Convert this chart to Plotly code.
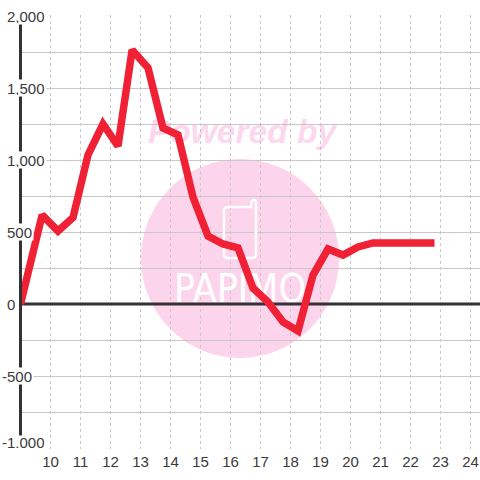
import plotly.graph_objects as go

hours = [9, 9.72, 10.25, 10.75, 11.25, 11.75, 12.25, 12.72, 13.25, 13.75, 14.25, 14.75, 15.25,
         15.75, 16.25, 16.75, 17.25, 17.75, 18.25, 18.75, 19.25, 19.75, 20.25, 20.75, 21.25,
         21.75, 22.25, 22.8]
values = [0, 618, 507, 600, 1035, 1250, 1097, 1764, 1640, 1222, 1174, 743, 472,
          417, 389, 111, 14, -125, -188, 201, 382, 340, 396, 424, 424,
          424, 424, 424]
x_ticks = list(range(10, 25))
y_ticks = [2000, 1500, 1000, 500, 0, -500, -1000]
y_labels = ["2,000", "1,500", "1,000", "500", "0", "-500", "-1,000"]

FONT = "Liberation Sans"
TEXT = "#3a3a3a"
GRID = "#c8c8c8"
PINK = "#fcd5ec"
X0 = 10 - 28.5 / 30
X1 = 10 + 429.5 / 30


def px_x(p):
    return 10 + (p - 50.5) / 30


def px_y(p):
    return (304 - p) / 0.144


def phone_path():
    seq = [("M", 229, 207), ("L", 251, 207), ("L", 251.5, 202), ("Q", 252, 200, 254, 200),
           ("Q", 256, 200, 256, 203), ("L", 256, 254), ("Q", 256, 258, 252, 258),
           ("L", 228, 258), ("Q", 224, 258, 224, 254), ("L", 224, 211), ("Q", 224, 207, 229, 207)]
    out = []
    for s in seq:
        c = s[0]
        pts = s[1:]
        coords = [f"{px_x(pts[i]):.4f},{px_y(pts[i + 1]):.3f}" for i in range(0, len(pts), 2)]
        out.append(c + " ".join(coords))
    return " ".join(out) + " Z"


fig = go.Figure()

fig.add_trace(go.Scatter(
    x=[px_x(242)], y=[px_y(135)], mode="text", text=["Powered by"], hoverinfo="skip",
    textfont=dict(family=FONT, size=33.5, style="italic", weight="bold", color="rgba(247,140,205,0.36)"),
    textposition="middle center", showlegend=False))
fig.add_trace(go.Scatter(
    x=[px_x(240)], y=[px_y(292)], mode="text", text=["PAPIMO"], hoverinfo="skip",
    textfont=dict(family="DejaVu Sans Condensed", size=39, color="#ffffff"),
    textposition="middle center", showlegend=False))
fig.add_trace(go.Scatter(
    x=[px_x(17), X1], y=[0, 0], mode="lines", line=dict(color="#333333", width=3),
    cliponaxis=False, hoverinfo="skip", showlegend=False))
fig.add_trace(go.Scatter(
    x=hours, y=values, mode="lines", line=dict(color="#f02035", width=7.5),
    cliponaxis=False, showlegend=False))

fig.add_shape(type="circle", xref="x", yref="y", layer="below",
              x0=px_x(141), x1=px_x(339), y0=px_y(159), y1=px_y(358),
              fillcolor=PINK, line=dict(width=0))
fig.add_shape(type="path", xref="x", yref="y", layer="between", path=phone_path(),
              line=dict(color="#ffffff", width=2.5), fillcolor="rgba(0,0,0,0)")

for v, label in zip(y_ticks, y_labels):
    bottom = v == min(y_ticks)
    fig.add_annotation(
        x=0, xref="paper", y=v, yref="y", text=label, showarrow=False, xanchor="left", yanchor="middle",
        xshift=-22 if v < 0 else -17.5, yshift=6 if bottom else 0,
        font=dict(family=FONT, size=15, color=TEXT),
        bgcolor="#ffffff", borderpad=1, height=11 if bottom else 14, align="left")

fig.update_layout(
    width=480, height=480, margin=dict(l=22, r=0, t=15, b=31, autoexpand=False),
    paper_bgcolor="#ffffff", plot_bgcolor="rgba(0,0,0,0)", showlegend=False,
    xaxis=dict(range=[X0, X1], tickmode="array", tickvals=x_ticks, ticktext=[str(t) for t in x_ticks],
               showgrid=True, gridcolor=GRID, gridwidth=1, griddash="3px,3px", zeroline=False,
               showline=False, ticks="", ticklen=0, ticklabelstandoff=2,
               tickfont=dict(family=FONT, size=15, color=TEXT)),
    yaxis=dict(range=[-1000 - 1 / 0.144, 2000 + 1 / 0.144], tick0=0, dtick=250, showticklabels=False, ticks="",
               showgrid=True, gridcolor=GRID, gridwidth=1, zeroline=False,
               showline=True, linecolor="#333333", linewidth=3),
)

fig.write_html("out.html", config={"displayModeBar": False},
               post_script="document.body.style.margin='0';document.body.style.overflow='hidden';")
